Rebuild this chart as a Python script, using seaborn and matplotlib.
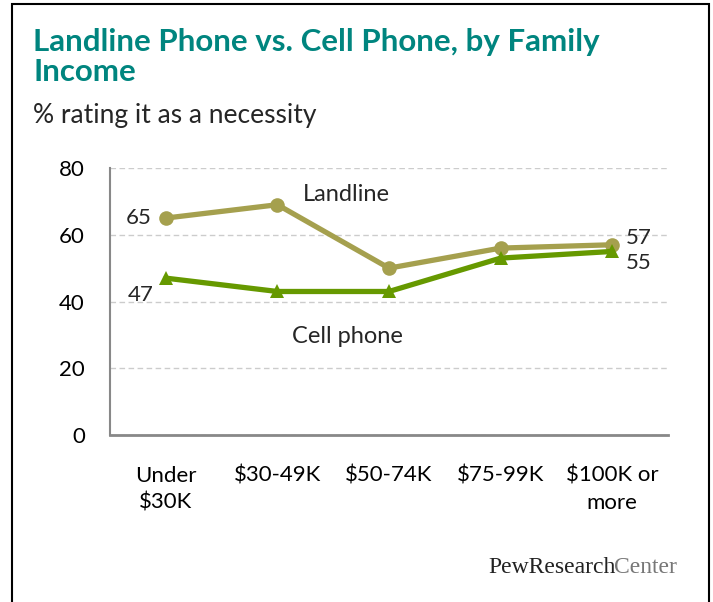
import matplotlib
matplotlib.use("Agg")
import matplotlib.pyplot as plt
import seaborn as sns
import pandas as pd

categories = ["Under\n$30K", "$30-49K", "$50-74K", "$75-99K", "$100K or\nmore"]
landline = [65, 69, 50, 56, 57]
cell = [47, 43, 43, 53, 55]

LAND_COL = "#A5A04E"
CELL_COL = "#669900"
H = 602.0

sns.set_theme(style="white")
plt.rcParams['font.family'] = ['Lato', 'DejaVu Sans']

df = pd.DataFrame({"cat": list(range(len(categories))) * 2,
                   "value": landline + cell,
                   "series": ["Landline"] * 5 + ["Cell phone"] * 5})

fig = plt.figure(figsize=(7.13, 6.02), dpi=100)
ax = fig.add_axes([110 / 713, 1 - 435 / H, 558 / 713, 267 / H])

sns.lineplot(data=df, x="cat", y="value", hue="series", style="series",
             palette={"Landline": LAND_COL, "Cell phone": CELL_COL},
             markers={"Landline": "o", "Cell phone": "^"}, dashes=False,
             linewidth=3.8, markersize=10.5, markeredgewidth=0, legend=False, ax=ax)

ax.set_xlim(-0.5, 4.5)
ax.set_ylim(0, 80)
ax.set_yticks([0, 20, 40, 60, 80])
ax.set_xticks(range(len(categories)))
ax.set_xticklabels(categories, fontsize=16, color="black", linespacing=1.45)
ax.tick_params(axis="y", labelsize=16, labelcolor="black", length=5, color="#888888",
               direction="in", pad=18)
ax.tick_params(axis="x", length=0, pad=22)
ax.set_xlabel("")
ax.set_ylabel("")
ax.yaxis.grid(True, linestyle=(0, (4, 2.5)), color="#CCCCCC", linewidth=1)
for s in ["top", "right"]:
    ax.spines[s].set_visible(False)
ax.spines["left"].set_color("#888888")
ax.spines["bottom"].set_color("#888888")
ax.spines["left"].set_linewidth(1.5)
ax.spines["bottom"].set_linewidth(2)

# value labels
ax.text(-0.13, landline[0], str(landline[0]), ha="right", va="center", fontsize=16)
ax.text(-0.11, cell[0] - 5, str(cell[0]), ha="right", va="center", fontsize=16)
ax.text(4.12, landline[4] + 2, str(landline[4]), ha="left", va="center", fontsize=16)
ax.text(4.12, cell[4] - 3.5, str(cell[4]), ha="left", va="center", fontsize=16)
ax.text(1.62, 72, "Landline", ha="center", va="center", fontsize=17)
ax.text(1.63, 29.5, "Cell phone", ha="center", va="center", fontsize=17)

fig.text(33 / 713, 1 - 51 / H, "Landline Phone vs. Cell Phone, by Family", ha="left",
         va="baseline", fontsize=22.5, fontweight="bold", color="#00857F")
fig.text(33 / 713, 1 - 81 / H, "Income", ha="left", va="baseline",
         fontsize=22.5, fontweight="bold", color="#00857F")
fig.text(33 / 713, 1 - 123 / H, "% rating it as a necessity", ha="left", va="baseline",
         fontsize=19)

# logo: "PewResearch" + "Center" set tight together
pew = fig.text(488 / 713, 1 - 573 / H, "PewResearch", ha="left", va="baseline", fontsize=17,
               family="Liberation Serif", color="#222222")
fig.canvas.draw()
bb = pew.get_window_extent().transformed(fig.transFigure.inverted())
fig.text(bb.x1 - 0.002, 1 - 573 / H, "Center", ha="left", va="baseline", fontsize=17,
         family="Liberation Serif", color="#777777")

fig.patches.append(plt.Rectangle((12 / 713, -0.01), 697 / 713, 1.003, transform=fig.transFigure,
                                 fill=False, edgecolor="black", linewidth=1.5))

fig.savefig("out.png", dpi=100)
